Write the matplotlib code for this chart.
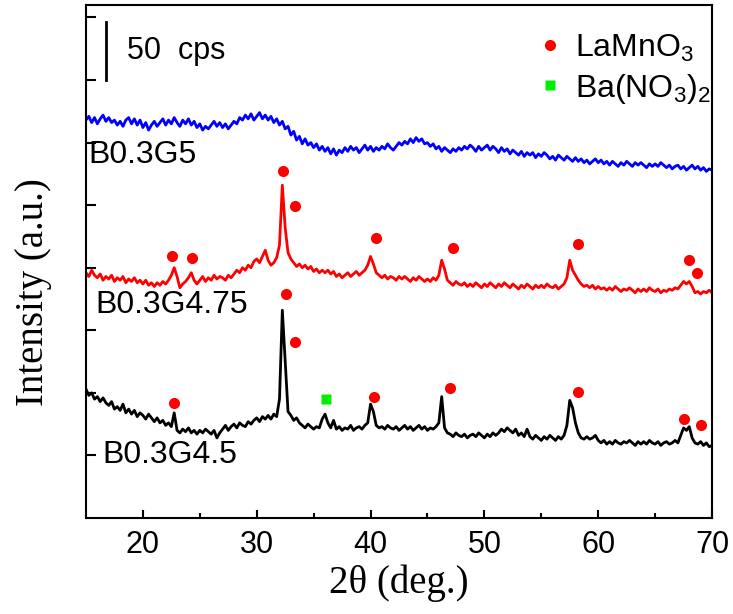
import numpy as np
import matplotlib
matplotlib.use('Agg')
import matplotlib.pyplot as plt

# ==================== data ====================
# 2theta grid, 0.25 deg step
two_theta = np.arange(15.0, 70.001, 0.25)

# B0.3G5 (blue, top)
int_g5 = [
    318, 321, 316, 320, 315, 319, 322, 317, 320, 316, 318, 314,
    317, 313, 318, 320, 315, 319, 314, 318, 312, 316, 310, 314,
    317, 313, 316, 319, 314, 318, 315, 320, 316, 313, 318, 315,
    319, 314, 317, 312, 315, 310, 313, 311, 314, 317, 313, 316,
    312, 315, 311, 314, 317, 315, 320, 318, 322, 319, 323, 318,
    321, 324, 319, 322, 318, 321, 316, 319, 314, 317, 311, 313,
    306, 309, 302, 305, 299, 303, 298, 300, 296, 299, 294, 297,
    293, 296, 291, 295, 290, 294, 292, 296, 293, 297, 294, 296,
    292, 295, 298, 294, 297, 293, 296, 294, 297, 295, 299, 296,
    294, 297, 300, 298, 301, 299, 303, 300, 304, 301, 303, 299,
    300, 297, 299, 295, 297, 293, 296, 294, 292, 295, 293, 296,
    294, 297, 295, 298, 296, 293, 297, 294, 296, 298, 294, 297,
    295, 292, 296, 293, 295, 291, 294, 292, 290, 293, 289, 292,
    290, 292, 288, 291, 289, 292, 290, 287, 289, 286, 290, 288,
    286, 289, 287, 285, 288, 285, 287, 284, 286, 283, 285, 287,
    284, 286, 283, 285, 282, 285, 283, 281, 284, 282, 285, 283,
    281, 284, 282, 284, 282, 280, 283, 281, 283, 281, 284, 282,
    280, 282, 279, 281, 282, 279, 281, 278, 280, 282, 279, 281,
    278, 280, 277, 279, 278,
]

# B0.3G4.75 (red, middle)
int_g475 = [
    196, 193, 198, 194, 192, 195, 190, 193, 191, 194, 189, 192,
    190, 193, 188, 191, 189, 192, 188, 190, 187, 190, 186, 188,
    185, 188, 186, 189, 187, 190, 194, 200, 193, 184, 187, 189,
    192, 196, 190, 187, 190, 193, 189, 192, 190, 194, 191, 193,
    192, 190, 194, 192, 195, 198, 196, 200, 198, 202, 200, 205,
    207, 204, 209, 214, 206, 202, 204, 208, 218, 266, 232, 212,
    207, 204, 201, 203, 200, 202, 199, 201, 197, 199, 196, 198,
    196, 198, 195, 197, 193, 195, 192, 194, 196, 193, 195, 197,
    194, 196, 198, 202, 209, 203, 196, 194, 192, 194, 191, 193,
    192, 190, 193, 191, 193, 191, 189, 192, 190, 193, 191, 189,
    191, 189, 192, 190, 194, 206, 199, 190, 188, 186, 189, 187,
    186, 188, 185, 187, 185, 188, 186, 184, 187, 185, 188, 186,
    184, 187, 185, 188, 186, 184, 187, 185, 183, 186, 184, 187,
    185, 183, 186, 184, 186, 184, 187, 185, 184, 186, 183, 185,
    187, 192, 206, 198, 194, 190, 187, 185, 186, 184, 186, 183,
    185, 183, 184, 182, 184, 182, 185, 183, 181, 183, 182, 184,
    182, 180, 183, 181, 183, 181, 184, 182, 181, 183, 180, 182,
    181, 183, 182, 184, 183, 186, 189, 187, 189, 185, 180, 181,
    179, 181, 180, 182, 180,
]

# B0.3G4.5 (black, bottom)
int_g45 = [
    103, 98, 100, 95, 97, 93, 96, 92, 90, 93, 87, 89,
    86, 91, 84, 87, 83, 86, 81, 84, 82, 79, 83, 80,
    77, 80, 76, 78, 74, 76, 73, 84, 70, 68, 71, 69,
    72, 68, 70, 67, 70, 68, 71, 69, 67, 70, 64, 68,
    71, 74, 70, 73, 75, 72, 76, 74, 73, 77, 75, 78,
    80, 77, 81, 79, 82, 79, 83, 81, 95, 166, 125, 85,
    82, 78, 80, 76, 74, 72, 75, 73, 71, 73, 72, 79,
    83, 76, 72, 78, 71, 73, 70, 72, 71, 74, 70, 72,
    73, 71, 74, 76, 91, 85, 74, 72, 73, 71, 74, 72,
    71, 73, 70, 72, 74, 71, 73, 70, 72, 74, 71, 73,
    70, 72, 71, 73, 76, 97, 72, 68, 67, 65, 68, 66,
    65, 67, 64, 66, 67, 65, 68, 66, 64, 67, 65, 68,
    66, 68, 71, 69, 72, 70, 68, 71, 66, 68, 65, 71,
    65, 63, 66, 64, 62, 65, 63, 66, 64, 62, 65, 63,
    66, 74, 94, 88, 76, 68, 64, 63, 65, 63, 64, 66,
    62, 60, 62, 59, 61, 59, 62, 60, 59, 61, 60, 62,
    60, 58, 61, 59, 61, 59, 62, 60, 59, 61, 58, 60,
    61, 59, 60, 62, 60, 66, 72, 70, 73, 64, 60, 59,
    61, 58, 60, 57, 58,
]

# phase markers (x, y)
lamno3_x = [22.6, 24.3, 32.3, 33.4, 40.5, 47.2, 58.2, 68.0, 68.7,
            22.7, 32.6, 33.4, 40.3, 47.0, 58.2, 67.5, 69.0]
lamno3_y = [209, 208, 277, 249, 224, 216, 219, 206, 196,
            92, 179, 141, 97, 104, 101, 79, 74]
bano3_x = [36.1]
bano3_y = [95]

sample_names = ['B0.3G5', 'B0.3G4.75', 'B0.3G4.5']
label_x = [15.2, 15.8, 16.4]
label_y = [290, 170, 50]

x_ticks = [20, 30, 40, 50, 60, 70]
x_minor = [25, 35, 45, 55, 65]
y_ticks = [50, 100, 150, 200, 250, 300, 350, 400]

SANS = ['Liberation Sans', 'DejaVu Sans']
SERIF = ['Liberation Serif', 'DejaVu Serif']

plt.rcParams.update({
    'font.family': SANS,
    'mathtext.default': 'regular',
    'axes.linewidth': 1.5,
})

fig = plt.figure(figsize=(7.33, 6.14), dpi=100)
ax = fig.add_axes([0.1173, 0.1564, 0.8541, 0.8355])

ax.plot(two_theta, int_g5, color='#0000FF', lw=2.0)
ax.plot(two_theta, int_g475, color='#FF0000', lw=2.0)
ax.plot(two_theta, int_g45, color='black', lw=2.0)

ax.plot(lamno3_x, lamno3_y, 'o', color='#FF0000', ms=8, mec='none',
        label='LaMnO$_3$')
ax.plot(bano3_x, bano3_y, 's', color='#00EE00', ms=6.5, mec='none',
        label='Ba(NO$_3$)$_2$')

for name, lx, ly in zip(sample_names, label_x, label_y):
    ax.text(lx, ly, name, fontsize=23, va='center', ha='left')

# 50 cps scale bar
ax.plot([16.8, 16.8], [350, 396], color='black', lw=2)
ax.text(18.6, 373, '50  cps', fontsize=22, va='center', ha='left')

leg = ax.legend(loc='upper left', bbox_to_anchor=(0.69, 0.99), frameon=False,
                fontsize=23, handlelength=0.6, handletextpad=0.5,
                labelspacing=0.25, borderpad=0.2, numpoints=1)

ax.set_xlim(15, 70)
ax.set_ylim(0, 410)
ax.set_xticks(x_ticks)
ax.set_xticks(x_minor, minor=True)
ax.set_yticks(y_ticks)
ax.set_yticklabels([])
ax.tick_params(axis='x', which='major', direction='in', length=6, width=1.5,
               labelsize=22, pad=9)
ax.tick_params(axis='x', which='minor', direction='in', length=3.5, width=1.5)
ax.tick_params(axis='y', which='major', direction='in', length=7, width=1.5)

ax.set_xlabel('2θ (deg.)', fontsize=28, family=SERIF, labelpad=3)
ax.set_ylabel('Intensity (a.u.)', fontsize=28, family=SERIF)
ax.yaxis.set_label_coords(-0.055, 0.44)

fig.savefig('out.png', dpi=100)
